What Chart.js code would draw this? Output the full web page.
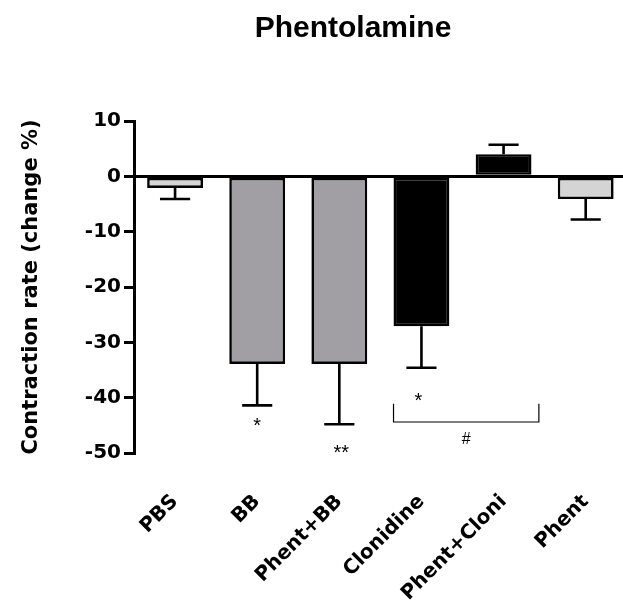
<!DOCTYPE html>
<html>
<head>
<meta charset="utf-8">
<script src="https://cdn.jsdelivr.net/npm/chart.js@4"></script>
<style>
  html, body { margin: 0; padding: 0; background: #ffffff; overflow: hidden; }
  #wrap { width: 623px; height: 606px; overflow: hidden; }
  canvas { display: block; }
</style>
</head>
<body>
<div id="wrap"><canvas id="chart" width="632" height="606"></canvas></div>
<script>
// Treatment groups and their mean change in contraction rate (%) with SEM
const categories = ['PBS', 'BB', 'Phent+BB', 'Clonidine', 'Phent+Cloni', 'Phent'];
const meanChange = [-2.1, -33.9, -33.9, -27.1, 4.0, -4.1];
const semChange = [2.0, 7.5, 10.9, 7.5, 1.7, 3.7];
const barColors = ['#d4d4d4', '#a19fa4', '#a19fa4', '#000000', '#000000', '#d4d4d4'];
const yTicks = [10, 0, -10, -20, -30, -40, -50];

// Significance marks (category index, y in data units)
const sigMarks = [
  { text: '*', index: 1, y: -44.1, dx: 0 },
  { text: '**', index: 2, y: -49.1, dx: 2 },
  { text: '*', index: 3, y: -39.6, dx: -3 }
];
// Bracket between Clonidine and Phent+Cloni
const bracket = { from: 3, to: 4, fromOffset: -0.34, toOffset: 0.43, yTop: -41.1, yBottom: -44.4, label: '#', labelY: -47.6 };

const FONT_BOLD = 'DejaVu Sans';

const errorBarPlugin = {
  id: 'errorBars',
  afterDatasetsDraw(chart) {
    const ctx = chart.ctx;
    const meta = chart.getDatasetMeta(0);
    const y = chart.scales.y;
    ctx.save();
    ctx.strokeStyle = '#000';
    ctx.lineWidth = 2.6;
    ctx.lineCap = 'butt';
    meta.data.forEach((bar, i) => {
      const m = meanChange[i];
      const e = semChange[i];
      const end = m >= 0 ? m + e : m - e;
      const y0 = y.getPixelForValue(m);
      const y1 = y.getPixelForValue(end);
      const half = bar.width * 0.27;
      ctx.beginPath();
      ctx.moveTo(bar.x, y0);
      ctx.lineTo(bar.x, y1);
      ctx.moveTo(bar.x - half, y1);
      ctx.lineTo(bar.x + half, y1);
      ctx.stroke();
    });
    ctx.restore();
  }
};

const annotationPlugin = {
  id: 'annotations',
  afterDraw(chart) {
    const ctx = chart.ctx;
    const x = chart.scales.x;
    const y = chart.scales.y;
    ctx.save();
    ctx.fillStyle = '#000';
    ctx.textAlign = 'center';
    ctx.textBaseline = 'alphabetic';
    ctx.font = '20px "Liberation Sans", Arial, sans-serif';
    sigMarks.forEach(s => {
      const px = x.getPixelForValue(s.index) + s.dx;
      const py = y.getPixelForValue(s.y) + 20 * 0.57;
      ctx.fillText(s.text, px, py);
    });
    // bracket
    const step = x.getPixelForValue(1) - x.getPixelForValue(0);
    const xl = x.getPixelForValue(bracket.from) + bracket.fromOffset * step;
    const xr = x.getPixelForValue(bracket.to) + bracket.toOffset * step;
    const yt = y.getPixelForValue(bracket.yTop);
    const yb = y.getPixelForValue(bracket.yBottom);
    ctx.strokeStyle = '#000';
    ctx.lineWidth = 1.2;
    ctx.beginPath();
    ctx.moveTo(xl, yt);
    ctx.lineTo(xl, yb);
    ctx.lineTo(xr, yb);
    ctx.lineTo(xr, yt);
    ctx.stroke();
    ctx.font = '16px "Liberation Sans", Arial, sans-serif';
    ctx.textBaseline = 'middle';
    ctx.fillText(bracket.label, (xl + xr) / 2, y.getPixelForValue(bracket.labelY));
    // chart title
    ctx.font = 'bold 30px "Liberation Sans", Arial, sans-serif';
    ctx.textBaseline = 'alphabetic';
    ctx.fillText('Phentolamine', 353, 37);
    ctx.restore();
  }
};

new Chart(document.getElementById('chart'), {
  type: 'bar',
  data: {
    labels: categories,
    datasets: [{
      data: meanChange,
      backgroundColor: barColors,
      borderColor: '#000',
      borderWidth: 2.6,
      borderSkipped: false,
      barPercentage: 0.68,
      categoryPercentage: 1.0
    }]
  },
  options: {
    responsive: false,
    animation: false,
    layout: { padding: { top: 121, right: 4, left: 0, bottom: 0 } },
    plugins: {
      legend: { display: false },
      tooltip: { enabled: false },
      title: { display: false }
    },
    scales: {
      x: {
        offset: true,
        grid: { display: false },
        border: { display: false },
        ticks: {
          color: '#000',
          font: { family: FONT_BOLD, weight: 'bold', size: 20 },
          minRotation: 45,
          maxRotation: 45,
          autoSkip: false,
          padding: 29
        },
        afterFit(scale) { scale.height = 153; }
      },
      y: {
        min: -50,
        max: 10,
        afterBuildTicks(scale) { scale.ticks = yTicks.map(v => ({ value: v })); },
        border: { display: true, color: '#000', width: 3 },
        grid: {
          color: ctx => (ctx.tick && ctx.tick.value === 0 ? '#000' : 'rgba(0,0,0,0)'),
          lineWidth: 3,
          tickColor: '#000',
          tickLength: 10,
          drawTicks: true
        },
        ticks: {
          color: '#000',
          font: { family: FONT_BOLD, weight: 'bold', size: 20 },
          padding: 3
        },
        title: {
          display: true,
          text: 'Contraction rate (change %)',
          color: '#000',
          font: { family: FONT_BOLD, weight: 'bold', size: 21 },
          padding: { top: 19, bottom: 0 }
        },
        afterFit(scale) { scale.width = 134; }
      }
    }
  },
  plugins: [errorBarPlugin, annotationPlugin]
});
</script>
</body>
</html>
